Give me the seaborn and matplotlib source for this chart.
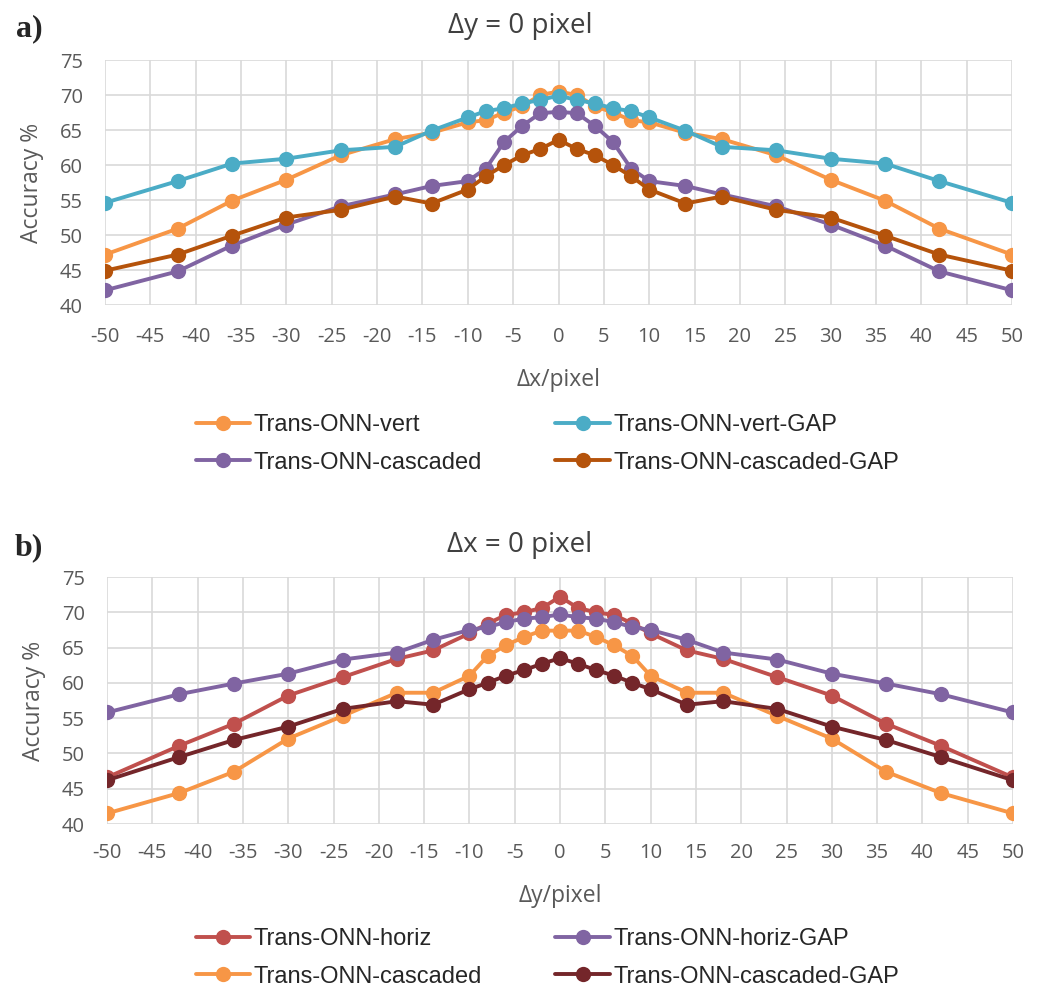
import numpy as np
import pandas as pd
import matplotlib
matplotlib.use("Agg")
import matplotlib.pyplot as plt
import seaborn as sns

# ---------------- data ----------------
shift = [-50, -42, -36, -30, -24, -18, -14, -10, -8, -6, -4, -2, 0,
         2, 4, 6, 8, 10, 14, 18, 24, 30, 36, 42, 50]

# panel a (dy = 0)
a_vert = [47.2, 50.9, 54.9, 57.9, 61.4, 63.7, 64.6, 66.1, 66.4, 67.5, 68.4, 70.0, 70.5,
          70.0, 68.4, 67.5, 66.4, 66.1, 64.6, 63.7, 61.4, 57.9, 54.9, 50.9, 47.2]
a_vert_gap = [54.6, 57.7, 60.2, 60.9, 62.1, 62.6, 64.9, 66.8, 67.7, 68.1, 68.8, 69.3, 69.9,
              69.3, 68.8, 68.1, 67.7, 66.8, 64.9, 62.6, 62.1, 60.9, 60.2, 57.7, 54.6]
a_casc = [42.1, 44.8, 48.5, 51.5, 54.1, 55.8, 57.0, 57.7, 59.5, 63.3, 65.6, 67.4, 67.6,
          67.4, 65.6, 63.3, 59.5, 57.7, 57.0, 55.8, 54.1, 51.5, 48.5, 44.8, 42.1]
a_casc_gap = [44.9, 47.2, 49.9, 52.5, 53.6, 55.5, 54.5, 56.5, 58.4, 60.0, 61.4, 62.3, 63.6,
              62.3, 61.4, 60.0, 58.4, 56.5, 54.5, 55.5, 53.6, 52.5, 49.9, 47.2, 44.9]

# panel b (dx = 0)
b_horiz = [46.6, 51.1, 54.2, 58.2, 60.8, 63.4, 64.6, 67.0, 68.4, 69.6, 70.0, 70.6, 72.2,
           70.6, 70.0, 69.6, 68.4, 67.0, 64.6, 63.4, 60.8, 58.2, 54.2, 51.1, 46.6]
b_horiz_gap = [55.8, 58.4, 59.9, 61.3, 63.3, 64.3, 66.1, 67.5, 67.9, 68.6, 69.1, 69.3, 69.7,
               69.3, 69.1, 68.6, 67.9, 67.5, 66.1, 64.3, 63.3, 61.3, 59.9, 58.4, 55.8]
b_casc = [41.5, 44.4, 47.4, 52.1, 55.3, 58.6, 58.6, 61.0, 63.8, 65.3, 66.5, 67.4, 67.4,
          67.4, 66.5, 65.3, 63.8, 61.0, 58.6, 58.6, 55.3, 52.1, 47.4, 44.4, 41.5]
b_casc_gap = [46.2, 49.5, 51.9, 53.8, 56.3, 57.4, 56.9, 59.1, 60.0, 61.0, 61.8, 62.7, 63.5,
              62.7, 61.8, 61.0, 60.0, 59.1, 56.9, 57.4, 56.3, 53.8, 51.9, 49.5, 46.2]

names_a = ["Trans-ONN-vert", "Trans-ONN-vert-GAP", "Trans-ONN-cascaded", "Trans-ONN-cascaded-GAP"]
names_b = ["Trans-ONN-horiz", "Trans-ONN-horiz-GAP", "Trans-ONN-cascaded", "Trans-ONN-cascaded-GAP"]
colors_a = ["#F79646", "#4BACC6", "#8064A2", "#B5530B"]
colors_b = ["#C0504D", "#8064A2", "#F79646", "#74262A"]

x_ticks = list(range(-50, 51, 5))
y_ticks = [40, 45, 50, 55, 60, 65, 70, 75]

def long_df(series, names):
    frames = []
    for vals, n in zip(series, names):
        frames.append(pd.DataFrame({"shift": shift, "acc": vals, "series": n}))
    return pd.concat(frames, ignore_index=True)

df_a = long_df([a_vert, a_vert_gap, a_casc, a_casc_gap], names_a)
df_b = long_df([b_horiz, b_horiz_gap, b_casc, b_casc_gap], names_b)

# ---------------- style ----------------
sns.set_style("white")
plt.rcParams['font.family'] = ['Open Sans', 'DejaVu Sans']
plt.rcParams['axes.unicode_minus'] = False

fig = plt.figure(figsize=(10.4, 9.96), dpi=100)

tick_col = "#595959"
grid_col = "#D9D9D9"

def draw(rect, df, names, colors, title, xlabel, tag, title_y, leg_y, xpad, xlpad):
    ax = fig.add_axes(rect)
    for n, c in zip(names, colors):
        sub = df[df["series"] == n]
        sns.lineplot(data=sub, x="shift", y="acc", ax=ax, color=c, marker="o",
                     markersize=11, markeredgewidth=0, linewidth=2.8,
                     legend=False, label=n, sort=False)
    ax.set_xlim(-50, 50)
    ax.set_ylim(40, 75)
    ax.set_xticks(x_ticks)
    ax.set_yticks(y_ticks)
    ax.grid(True, color=grid_col, linewidth=1.2)
    ax.set_axisbelow(True)
    for s in ax.spines.values():
        s.set_visible(False)
    ax.tick_params(axis="both", length=0, labelsize=14.5, labelcolor=tick_col)
    ax.tick_params(axis="x", pad=xpad)
    ax.tick_params(axis="y", pad=16)
    ax.set_xlabel(xlabel, fontsize=16.5, color=tick_col, labelpad=xlpad)
    ax.set_ylabel("Accuracy %", fontsize=16.5, color=tick_col, labelpad=11)
    fig.text(0.5, title_y, title, fontsize=20, color="#404040", ha="center", va="center")
    fig.text(0.028, title_y - 0.003, tag, fontsize=23, fontweight="bold",
             family=["Liberation Serif", "DejaVu Serif"], ha="center", va="center")
    lines = ax.get_lines()[:4]
    order = [0, 2, 1, 3]
    fig.legend([lines[i] for i in order], [names[i] for i in order],
               loc="center left", bbox_to_anchor=(0.168, leg_y),
               ncol=2, frameon=False, handlelength=2.3, handletextpad=0.15,
               columnspacing=3.1, labelspacing=0.65,
               prop={"family": ["Liberation Sans", "DejaVu Sans"], "size": 17})
    return ax

draw([105 / 1040, 1 - 305 / 996, 907 / 1040, 245 / 996], df_a, names_a, colors_a,
     "Δy = 0 pixel", "Δx/pixel", "a)", 1 - 26 / 996, 1 - 444 / 996, 16, 15)
draw([107 / 1040, 1 - 824 / 996, 906 / 1040, 247 / 996], df_b, names_b, colors_b,
     "Δx = 0 pixel", "Δy/pixel", "b)", 1 - 545 / 996, 1 - 958 / 996, 14, 15)

fig.savefig("out.png", dpi=100)
